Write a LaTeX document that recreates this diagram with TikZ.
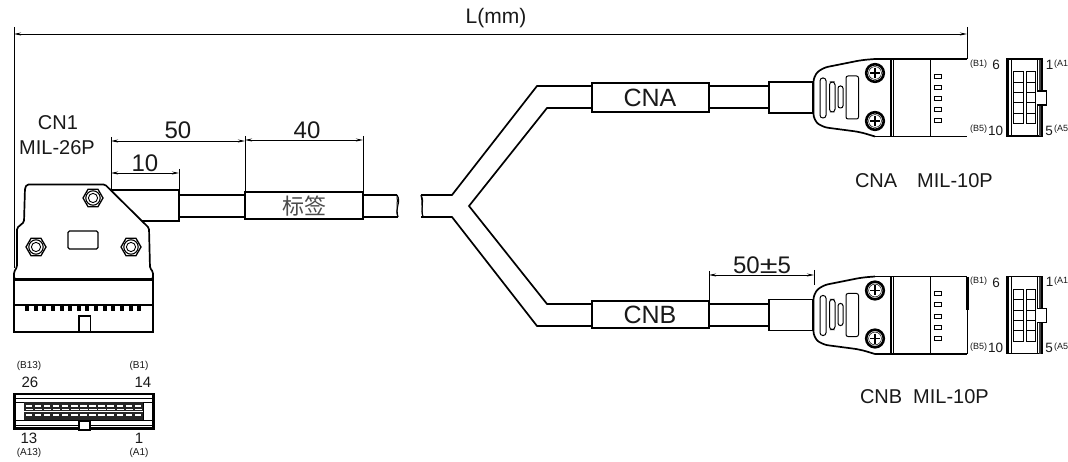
\documentclass[tikz,border=0pt]{standalone}
\usepackage{graphicx}
\usepackage{fontspec}
\setmainfont{Liberation Sans}
\newfontfamily\cjk{Noto Sans CJK SC}
\usetikzlibrary{arrows.meta}
\tikzset{
  every node/.style={inner sep=0pt,outer sep=0pt,text=black!90},
  thickline/.style={line width=1.7pt,black,line join=miter},
  medline/.style={line width=1pt,black},
  thinline/.style={line width=.7pt,black},
  dimline/.style={line width=.9pt,black,{Stealth[length=7pt,width=3pt]}-{Stealth[length=7pt,width=3pt]}},
  extline/.style={line width=.9pt,black},
  big/.style={font=\fontsize{20}{22}\selectfont},
  dimtext/.style={font=\fontsize{24}{26}\selectfont},
  boxtext/.style={font=\fontsize{25}{27}\selectfont},
  smalltext/.style={font=\fontsize{9}{10}\selectfont},
  pintext/.style={font=\fontsize{13.5}{15}\selectfont},
  pics/hexnut/.style={code={
    \draw[medline,line width=1.3pt] (0:10) -- (60:10) -- (120:10) -- (180:10) -- (240:10) -- (300:10) -- cycle;
    \draw[medline,line width=1.1pt] (0,0) circle (7.2);
    \draw[medline,line width=.9pt] (0,0) circle (4.6);
  }},
  pics/screw/.style={code={
    \draw[line width=2.6pt] (0,0) circle (8.8);
    \draw[line width=.5pt] (0,0) circle (6.4);
    \draw[line width=1.4pt] (-5,0) -- (5,0) (0,-5) -- (0,5);
  }},
  pics/plugside/.style={code={
    \draw[thickline,line width=1.7pt] (769,82) rectangle (813,113);
    \draw[thickline,fill=white,rounded corners=6pt]
      (875,59) -- (862,60) -- (822,68) -- (813.5,76) -- (813.5,120) -- (822,127) -- (860,132) -- (875,136.5);
    \draw[thickline,line width=1.8pt] (875,59) -- (967,59);
    \draw[thickline,line width=1.8pt] (875,136.5) -- (967,136.5);
    \draw[thickline] (891,59) -- (891,136);
    \draw[medline] (893,59) -- (893,136);
    \draw[medline] (930.5,59) -- (930.5,136);
    \draw[medline,rounded corners=2.8pt] (820,78) rectangle (826,118);
    \draw[medline,rounded corners=2.8pt] (829.5,82) rectangle (835,112);
    \draw[medline,rounded corners=2.3pt] (838,86) rectangle (843,108);
    \draw[medline,rounded corners=2pt] (846,76) rectangle (858.5,119);
    \pic at (875,73) {screw};
    \pic at (875,121) {screw};
    \foreach \yy in {74.5,85.5,96.5,107.5,119} {
      \draw[medline] (934.5,\yy) rectangle (941.5,\yy+4);
    }
    % end view
    \draw[line width=1.7pt] (1006.5,59) rectangle (1042,136);
    \draw[line width=2.4pt] (1007.5,59) -- (1007.5,136);
    \draw[medline] (1011,60) -- (1011,136);
    \draw[line width=1.6pt,black!75] (1040,60) -- (1040,91) (1040,105) -- (1040,136);
    \draw[medline] (1037.5,60) -- (1037.5,91) (1037.5,105) -- (1037.5,136);
    \foreach \yy in {71.7,82.1,92.5,102.9,113.3} {
      \draw[line width=.8pt] (1013,\yy) rectangle (1023,\yy+10.4);
      \draw[line width=.8pt] (1026,\yy) rectangle (1035,\yy+10.4);
    }
    \draw[line width=1.7pt,fill=white] (1037,91) -- (1046.5,91) -- (1046.5,105) -- (1037,105);
    \node[smalltext,anchor=center] at (978.5,64) {(B1)};
    \node[pintext,anchor=center] at (996,65) {6};
    \node[pintext,anchor=center] at (1049.5,64.5) {1};
    \node[smalltext,anchor=west] at (1054,64) {(A1};
    \node[smalltext,anchor=center] at (978.5,129.5) {(B5)};
    \node[pintext,anchor=center] at (995.5,130.5) {10};
    \node[pintext,anchor=center] at (1049,130.5) {5};
    \node[smalltext,anchor=west] at (1054,129.5) {(A5};
  }},
}
\begin{document}
\begin{tikzpicture}[x=1pt,y=-1pt]
\useasboundingbox (0,0) rectangle (1068,462);
\fill[white] (0,0) rectangle (1068,462);

% overall dimension
\coordinate (Lleft) at (14,34);
\coordinate (Lright) at (967,34);
\draw[extline] (14,27) -- (14,268);
\draw[extline] (967,27) -- (967,59);
\draw[dimline] (Lleft) -- (Lright);
\node[font=\fontsize{21}{23}\selectfont] (Ltext) at (496,18.5) {L(mm)};

% CN1 side view
\node[big] (cnone) at (58,123) {CN1};
\node[big] (milone) at (57,148) {MIL-26P};
\draw[thickline,line width=1.9pt] (111,190) -- (179,190) -- (179,221) -- (138,221);
\draw[thickline] (179,195) -- (245,195) (179,217) -- (245,217);
\draw[thickline,line width=1.9pt] (245,192) rectangle (363,219);
\draw[thickline] (363,195) -- (397,195) (363,217) -- (398,217);
\draw[medline] (397,195) .. controls (402,202) and (394,209) .. (398,217);
\draw[medline] (397,195) .. controls (398,202) and (396,209) .. (398,217);
\node[font=\cjk\fontsize{22}{24}\selectfont,text=black!70] (labelcn) at (304,206) {标签};

\draw[thickline,fill=white,rounded corners=1.5pt]
  (105,184.5) -- (149,228) -- (150,268) -- (153,272) -- (153,279) -- (14,279) -- (14,272) -- (17,267) -- (17,228) -- (24,222) -- (25,188) -- (27,184.5) -- cycle;
\draw[line width=2.4pt] (14,279.5) -- (153,279.5);
\draw[thickline] (14,279) rectangle (153,305);
\draw[thickline] (14,305) rectangle (153,332);
\foreach \xx in {27,35.6,44.3,52.9,61.5,70.2,78.8,87.4,96,104.7,113.3,121.9,130.6,139.2} {
  \fill (\xx-2,306) rectangle (\xx+2,311);
}
\draw[thickline,fill=white] (79,316) rectangle (90.5,332);
\draw[medline,rounded corners=1.5pt,line width=1.2pt] (68,231) rectangle (98,249);
\pic at (93,198) {hexnut};
\pic at (36,247) {hexnut};
\pic at (131,247) {hexnut};

% dimensions at CN1
\coordinate (a1) at (111,141);
\coordinate (a2) at (245,141);
\coordinate (b1) at (111,173);
\coordinate (b2) at (179,173);
\coordinate (c1) at (245,140);
\coordinate (c2) at (363,140);
\draw[extline] (111,137) -- (111,189) (245,136) -- (245,192) (179,169) -- (179,190) (363,136) -- (363,192);
\draw[dimline] (a1) -- (a2);
\draw[dimline] (b1) -- (b2);
\draw[dimline] (c1) -- (c2);
\node[dimtext] (dim50) at (178,130) {50};
\node[dimtext] (dim10) at (145,163) {10};
\node[dimtext] (dim40) at (307,130) {40};

% bottom CN1 end view
\node[smalltext,font=\fontsize{10}{11}\selectfont] (b13) at (29,366) {(B13)};
\node[smalltext,font=\fontsize{10}{11}\selectfont] (b1t) at (139,366) {(B1)};
\node[font=\fontsize{15}{16}\selectfont] (n26) at (30,382) {26};
\node[font=\fontsize{15}{16}\selectfont] (n14) at (143,382) {14};
\node[font=\fontsize{15}{16}\selectfont] (n13) at (29,438) {13};
\node[font=\fontsize{15}{16}\selectfont] (n1) at (139,438) {1};
\node[smalltext,font=\fontsize{10}{11}\selectfont] (a13) at (29,453) {(A13)};
\node[smalltext,font=\fontsize{10}{11}\selectfont] (a1t) at (139,453) {(A1)};
\draw[line width=2.6pt] (14.5,394) rectangle (153.5,428.5);
\draw[medline] (16,398) -- (152,398) (16,425) -- (152,425) (24,402) -- (24,420) -- (16,420) (143,402) -- (143,420) -- (152,420) (16,402) -- (152,402) (24,420) -- (143,420);
\fill[black!85] (24,402) rectangle (143,420);
\foreach \xx [count=\i from 0] in {25.5,34.6,43.7,52.8,61.9,71,80.1,89.2,98.3,107.4,116.5,125.6,134.7} {
  \fill[white] (\xx,404.5) rectangle (\xx+6.5,407);
  \fill[white] (\xx,413.5) rectangle (\xx+6.5,416);
  \fill[white] (\xx,408.5) rectangle (\xx+7.5,409.2);
}
\fill[white] (24,410.5) rectangle (143,411.3);
\draw[line width=2pt,fill=white] (78.5,421.5) -- (78.5,429.5) -- (90,429.5) -- (90,421.5) -- cycle;
\fill[white] (80,421.5) rectangle (88.5,427.5);

% Y harness
\draw[thickline] (421,195) -- (452,195) -- (537,86) -- (592,86);
\draw[thickline] (592,108) -- (547,108) -- (469,206) -- (547,304) -- (592,304);
\draw[thickline] (421,217) -- (452,217) -- (537,326) -- (592,326);
\draw[medline] (421,195) .. controls (425,202) and (420,209) .. (423,217);
\draw[medline] (421,195) .. controls (423,202) and (421,209) .. (423,217);
\draw[thickline] (592,83) rectangle (709,112);
\draw[thickline] (592,301) rectangle (709,328);
\node[boxtext] (cna) at (650,97.5) {CNA};
\node[boxtext] (cnb) at (650,315) {CNB};
\draw[thickline] (709,86) -- (769,86) (709,108) -- (769,108);
\draw[thickline] (709,304) -- (769,304) (709,326) -- (769,326);

% plugs
\pic at (0,0) {plugside};
\begin{scope}[yshift=-217.5pt]
\pic at (0,0) {plugside};
\end{scope}
\draw[line width=2.2pt] (967.5,277) -- (967.5,310);
\draw[medline] (967,310) -- (967,353.5);

% 50+-5
\coordinate (d1) at (709,275);
\coordinate (d2) at (814,275);
\draw[extline] (709,271) -- (709,301) (814,270) -- (814,285);
\draw[dimline] (d1) -- (d2);
\node[dimtext] (dim505) at (762,265) {50\scalebox{1.35}[1]{±}5};

\node[big,anchor=west] (cnatext) at (855,181) {CNA\hspace{20pt}MIL-10P};
\node[big,anchor=west] (cnbtext) at (860,397) {CNB\hspace{11pt}MIL-10P};
\end{tikzpicture}
\end{document}
